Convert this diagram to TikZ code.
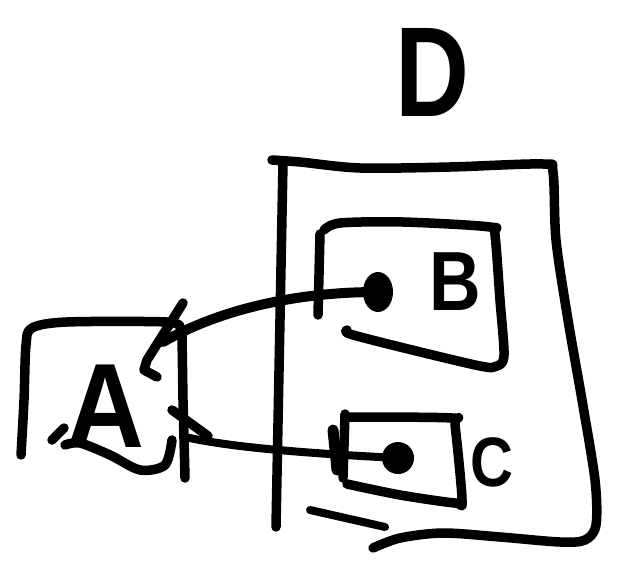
\documentclass[tikz,border=0pt]{standalone}
\usepackage{fontspec}
\setmainfont{Liberation Sans}
\usetikzlibrary{shapes.geometric}
\begin{document}
\begin{tikzpicture}[x=1pt,y=-1pt,
  ink/.style={line width=9.5pt,line cap=round,line join=round},
  wire/.style={ink,line width=10pt},
  dotmark/.style={fill=black},
  letter/.style={inner sep=0pt,font=\bfseries}]
\useasboundingbox (0,0) rectangle (634,564);
% box D
\draw[ink] plot[smooth,tension=0.5] coordinates {(272,160) (300,162) (360,168) (450,167) (543,164) (553,172) (556,240) (568,320) (582,400) (595,480) (596,525) (585,540) (560,542) (500,537) (443,533) (400,538) (373,548)};
\draw[ink] (283,163) -- (276,527);
\draw[ink,line width=8pt] (310,510) -- (385,527);
% box B
\draw[ink] (320,234) -- (318,315);
\draw[ink] plot[smooth,tension=0.5] coordinates {(324,230) (340,223) (403,222) (490,227) (495,235) (500,300) (504,355) (497,366) (480,366) (400,347) (350,334) (347,330)};
% box C
\draw[ink] (345,414) -- (343,478);
\draw[ink,line width=11pt] (333,430) -- (337,470);
\draw[ink] plot[smooth,tension=0.5] coordinates {(348,417) (452,418) (455,425) (462,500) (455,503) (400,495) (347,484)};
% box A
\draw[ink] plot[smooth,tension=0.5] coordinates {(21,455) (24,400) (26,345) (32,328) (67,322) (167,322) (180,328)};
\draw[ink] (182,335) -- (183,400) -- (185,478);
\draw[ink] plot[smooth,tension=0.5] coordinates {(65,445) (80,443) (110,455) (140,470) (165,465) (172,440)};
\draw[ink] (52,440) -- (64,428);
% labels
\node[letter,font=\bfseries\fontsize{120}{120}\selectfont,xscale=0.9] (A) at (105,406) {A};
\node[letter,font=\bfseries\fontsize{84}{84}\selectfont,xscale=0.85] (B) at (455,282) {B};
\node[letter,font=\bfseries\fontsize{70}{70}\selectfont,xscale=0.85] (C) at (492,462) {C};
\node[letter,font=\bfseries\fontsize{128}{128}\selectfont,xscale=0.8] (D) at (432,72) {D};
% ports and dots
\coordinate (aB) at (163,342);
\coordinate (aC) at (185,437);
\coordinate (aW) at (172,410);
\coordinate (aWend) at (208,436);
\coordinate (sTop) at (183,303);
\coordinate (sBot) at (157,377);
\node[dotmark,ellipse,minimum width=30pt,minimum height=40pt,inner sep=0pt] (bdot) at (378,292) {};
\node[dotmark,circle,minimum size=32pt,inner sep=0pt] (cdot) at (398,458) {};
% connectors
\draw[wire] (aB) .. controls (215,312) and (290,292) .. (bdot.center);
\draw[ink,line width=8pt] (aC) .. controls (230,447) and (300,453) .. (cdot.center);
\draw[ink] (aW) -- (aWend);
\draw[ink] (sTop) -- (147,360) -- (144,370) -- (sBot);
\end{tikzpicture}
\end{document}
